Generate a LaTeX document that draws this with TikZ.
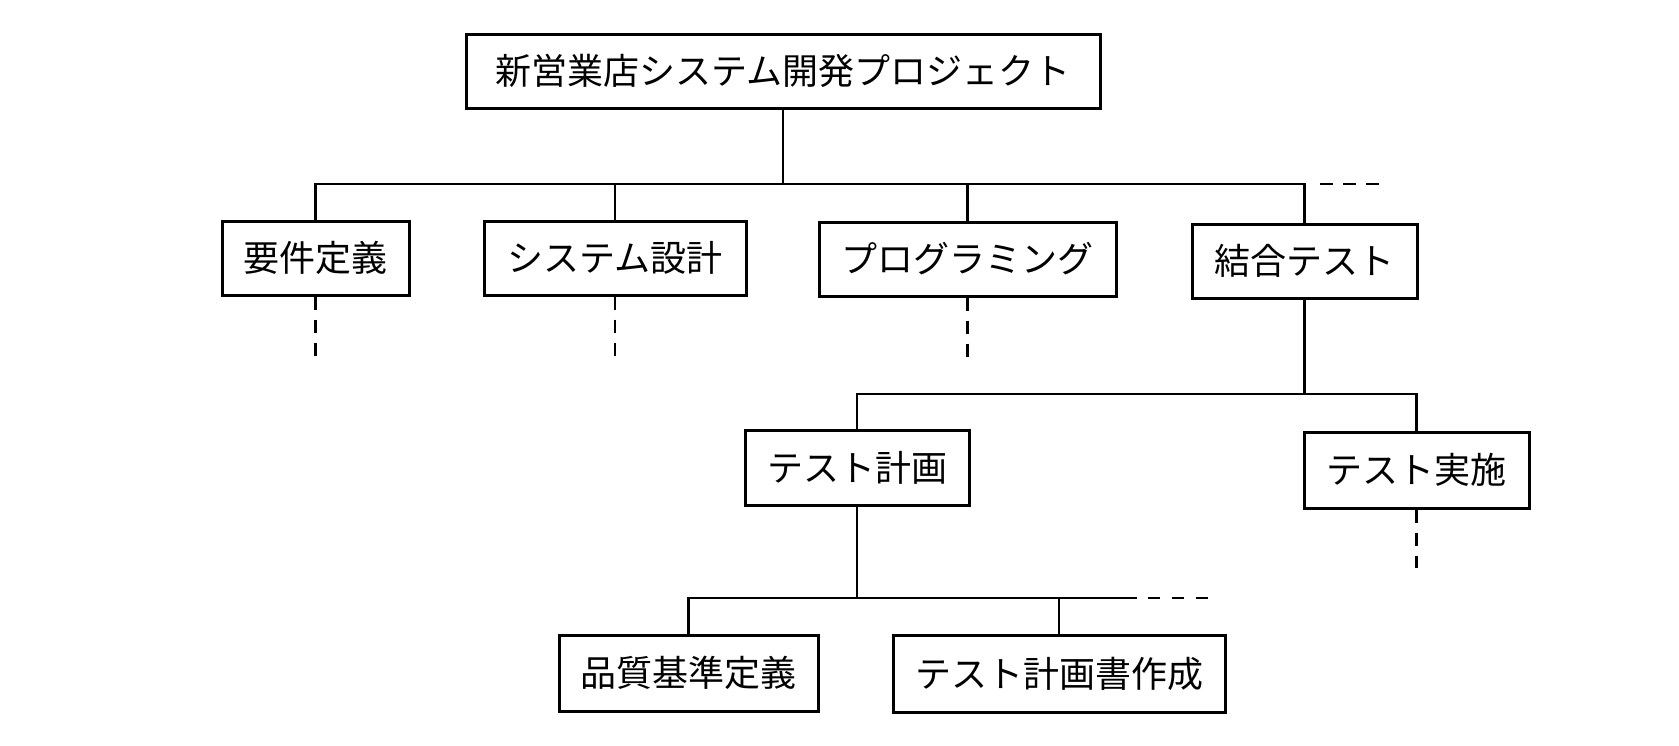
\documentclass[tikz,border=0pt]{standalone}
\usepackage{fontspec}
\newfontfamily\jp{Noto Sans CJK JP}
\begin{document}
\begin{tikzpicture}[x=1pt,y=-1pt,
  box/.style={draw, line width=3pt, inner sep=0pt, minimum height=74pt, font=\jp\fontsize{36}{40}\selectfont},
  link/.style={line width=2.8pt},
  stub/.style={line width=2.6pt, dash pattern=on 13pt off 10pt}]
\useasboundingbox (0,0) rectangle (1679,745);
\node[box, minimum width=634pt] (top) at (783,71) {新営業店システム開発プロジェクト};
\node[box, minimum width=187pt] (req) at (315.5,258) {要件定義};
\node[box, minimum width=262pt] (sys) at (615,258) {システム設計};
\node[box, minimum width=297pt] (prog) at (967.5,259) {プログラミング};
\node[box, minimum width=225pt] (ct) at (1304.5,261) {結合テスト};
\node[box, minimum width=224pt, minimum height=75pt] (tp) at (857,467.5) {テスト計画};
\node[box, minimum width=225pt, minimum height=76pt] (te) at (1416.5,470) {テスト実施};
\node[box, minimum width=259pt, minimum height=76pt] (qd) at (688.5,673) {品質基準定義};
\node[box, minimum width=332pt, minimum height=77pt] (tpd) at (1059,673.5) {テスト計画書作成};
\coordinate (b1) at (0,184);
\coordinate (b2) at (0,394);
\coordinate (b3) at (0,598);
\coordinate (d1a) at (1320,184);
\coordinate (d1) at (1382,184);
\coordinate (e3) at (1137,598);
\coordinate (d3a) at (1148,598);
\coordinate (d3) at (1212,598);
% level 1 bus
\draw[link] (top.south) -- (top.south |- b1);
\draw[link] (req.north) -- (req.north |- b1) -- (ct.north |- b1) -- (ct.north);
\draw[link] (sys.north) -- (sys.north |- b1);
\draw[link] (prog.north) -- (prog.north |- b1);
\draw[stub] (d1a) -- (d1);
% stubs
\draw[stub] (req.south) -- ++(0,60);
\draw[stub] (sys.south) -- ++(0,60);
\draw[stub] (prog.south) -- ++(0,60);
\draw[stub] (te.south) -- ++(0,58);
% level 2
\draw[link] (ct.south) -- (ct.south |- b2);
\draw[link] (tp.north) -- (tp.north |- b2) -- (te.north |- b2) -- (te.north);
% level 3
\draw[link] (tp.south) -- (tp.south |- b3);
\draw[link] (qd.north) -- (qd.north |- b3) -- (e3);
\draw[link] (tpd.north) -- (tpd.north |- b3);
\draw[stub, dash pattern=on 12pt off 12pt] (d3a) -- (d3);
\end{tikzpicture}
\end{document}
